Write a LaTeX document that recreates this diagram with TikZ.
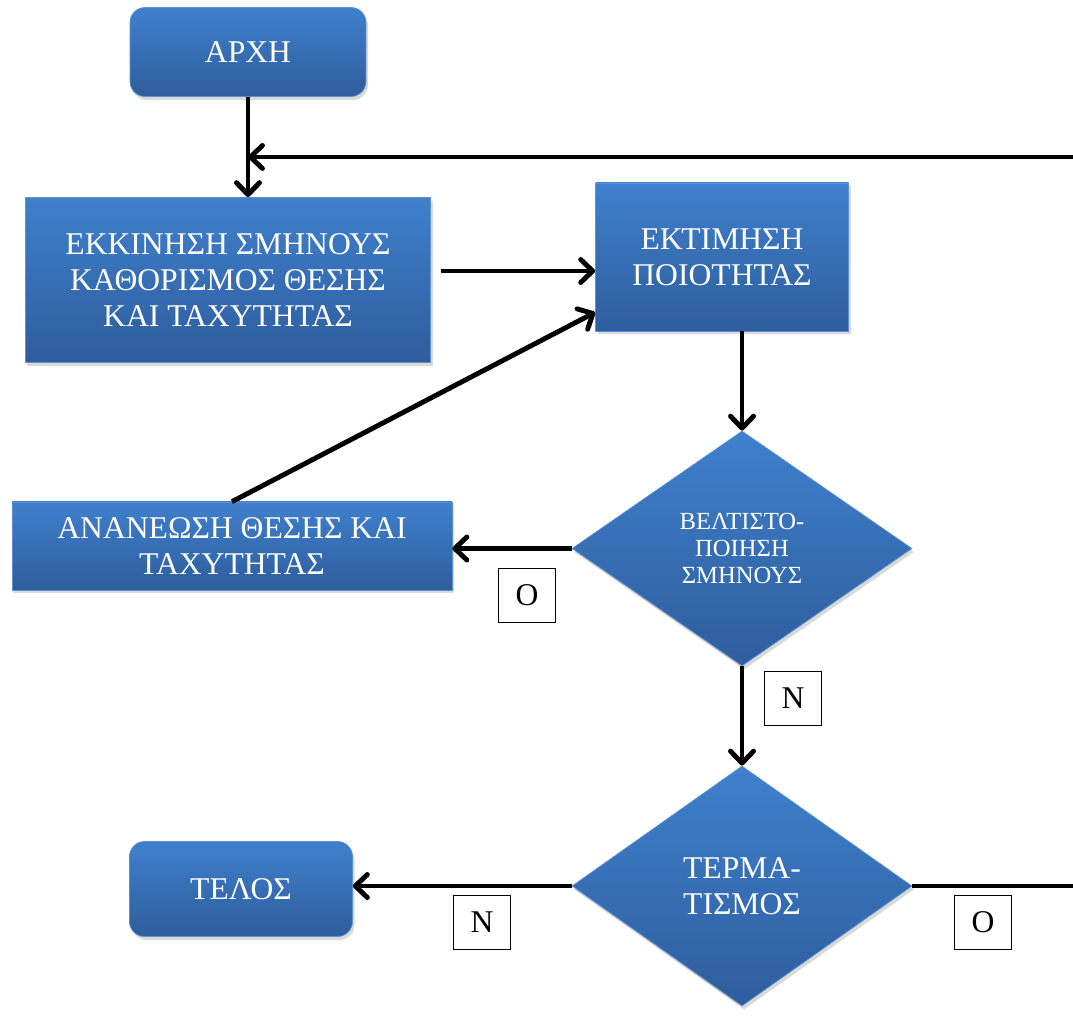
\documentclass[tikz,border=0pt]{standalone}
\usepackage{fontspec}
\setmainfont{Liberation Serif}
\usepackage{xcolor}
\usepackage{tikz}
\usetikzlibrary{arrows.meta,shapes,shadows,calc,positioning}

\definecolor{boxtop}{RGB}{63,128,205}
\definecolor{boxbottom}{RGB}{46,93,156}
\definecolor{boxedge}{RGB}{95,145,208}

\tikzset{
  block/.style={draw=boxedge, top color=boxtop, bottom color=boxbottom, text=white, align=center,
    font=\fontsize{18}{20.5}\selectfont,
    drop shadow={opacity=0.3, shadow xshift=0.04cm, shadow yshift=-0.07cm}},
  startstop/.style={block, rounded corners=0.3cm},
  decision/.style={block, diamond, inner sep=0pt},
  answer/.style={draw, thin, fill=white, font=\fontsize{18}{20}\selectfont,
    minimum width=1.14cm, minimum height=1.08cm},
  flow/.style={line width=2.8pt, -{Straight Barb[length=2.4mm,width=4.6mm,round]}},
}

\begin{document}
\begin{tikzpicture}

\useasboundingbox (0,0) rectangle (21.46,20.30);
\clip (0,0) rectangle (21.46,20.30);

\node[startstop, minimum width=4.72cm, minimum height=1.78cm] (arxi) at (4.96,19.26) {ΑΡΧΗ};
\node[block, minimum width=8.10cm, minimum height=3.30cm] (init) at (4.56,14.70) {ΕΚΚΙΝΗΣΗ ΣΜΗΝΟΥΣ\\ΚΑΘΟΡΙΣΜΟΣ ΘΕΣΗΣ\\ΚΑΙ ΤΑΧΥΤΗΤΑΣ};
\node[block, minimum width=5.06cm, minimum height=2.96cm] (eval) at (14.44,15.16) {ΕΚΤΙΜΗΣΗ\\ΠΟΙΟΤΗΤΑΣ};
\node[decision, minimum width=6.8cm, minimum height=4.7cm, font=\fontsize{14}{15.5}\selectfont] (optim) at (14.84,9.33) {ΒΕΛΤΙΣΤΟ-\\ΠΟΙΗΣΗ\\ΣΜΗΝΟΥΣ};
\node[block, minimum width=8.80cm, minimum height=1.76cm] (update) at (4.64,9.38) {ΑΝΑΝΕΩΣΗ ΘΕΣΗΣ ΚΑΙ\\ΤΑΧΥΤΗΤΑΣ};
\node[decision, minimum width=6.8cm, minimum height=4.8cm] (term) at (14.84,2.58) {ΤΕΡΜΑ-\\ΤΙΣΜΟΣ};
\node[startstop, minimum width=4.46cm, minimum height=1.90cm] (telos) at (4.82,2.52) {ΤΕΛΟΣ};

% yes / no labels
\node[answer] (no1) at (10.54,8.40) {Ο};
\node[answer] (yes1) at (15.86,6.34) {Ν};
\node[answer] (yes2) at (9.64,1.86) {Ν};
\node[answer] (no2) at (19.66,1.86) {Ο};

\coordinate (join) at (arxi.south |- 0,17.16);
\coordinate (loopR) at (22.2,17.16);

\draw[flow] (arxi.south) -- (arxi.south |- init.north);
\draw[flow] (term.east) -| (loopR) -- (join);
\draw[flow, shorten <=0.2cm] (init.east |- 0,14.88) -- (eval.west |- 0,14.88);
\draw[flow] (eval.south -| optim.north) -- (optim.north);
\draw[flow] (optim.west) -- (optim.west -| update.east);
\draw[flow] (update.north) -- ([yshift=0.38cm]eval.south west);
\draw[flow] (optim.south) -- (term.north);
\draw[flow] (term.west) -- (term.west -| telos.east);
\end{tikzpicture}
\end{document}
